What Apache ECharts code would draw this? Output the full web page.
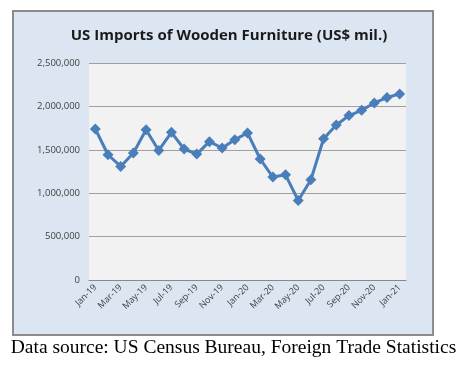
<!DOCTYPE html>
<html><head><meta charset="utf-8">
<script src="https://cdn.jsdelivr.net/npm/echarts@6/dist/echarts.min.js"></script>
<style>html,body{margin:0;padding:0;background:#fff}#c{width:467px;height:365px}</style>
</head><body><div id="c"></div>
<script>
const categories = ['Jan-19','Feb-19','Mar-19','Apr-19','May-19','Jun-19','Jul-19','Aug-19','Sep-19','Oct-19','Nov-19','Dec-19',
 'Jan-20','Feb-20','Mar-20','Apr-20','May-20','Jun-20','Jul-20','Aug-20','Sep-20','Oct-20','Nov-20','Dec-20','Jan-21'];
const imports = [1740000,1443000,1308000,1463000,1732000,1493000,1701000,1509000,1451000,1594000,1521000,1617000,
 1694000,1394000,1186000,1212000,916000,1155000,1628000,1786000,1894000,1955000,2040000,2102000,2144000];
const yTicks = [0,500000,1000000,1500000,2000000,2500000];

const chart = echarts.init(document.getElementById('c'), null, {renderer:'canvas'});
chart.setOption({
  animation:false,
  backgroundColor:'#ffffff',
  graphic:[
    {type:'rect', z:-10, shape:{x:13,y:11,width:420,height:324},
     style:{fill:'#dce6f2', stroke:'#8c8c8c', lineWidth:2}},
    {type:'rect', z:-9, shape:{x:89,y:63,width:317,height:217},
     style:{fill:'#f2f2f2'}},
    {type:'text', left:'center', top:338,
     style:{text:'Data source: US Census Bureau, Foreign Trade Statistics',
       font:'19.5px "Liberation Serif", "Times New Roman", serif', fill:'#000'}}
  ],
  title:{text:'US Imports of Wooden Furniture (US$ mil.)', left:224, textAlign:'center', top:23,
    textStyle:{fontFamily:'"Open Sans", sans-serif', fontSize:15, fontWeight:'bold', color:'#1a1a1a'}},
  grid:{left:89, right:61, top:63, bottom:85},
  xAxis:{type:'category', data:categories, boundaryGap:true,
    axisLine:{lineStyle:{color:'#888', width:1}},
    axisTick:{show:false},
    axisLabel:{interval:1, rotate:45, fontSize:9, color:'#404040', fontFamily:'"Open Sans", sans-serif', margin:6}},
  yAxis:{type:'value', min:0, max:2500000, interval:500000,
    axisLine:{show:false}, axisTick:{show:false},
    splitLine:{lineStyle:{color:'#a0a0a0', width:1}},
    axisLabel:{fontSize:9.5, color:'#404040', fontFamily:'"Open Sans", sans-serif', margin:9,
      formatter:v=>yTicks.includes(v)?v.toLocaleString('en-US'):''}},
  series:[{type:'line', data:imports, symbol:'diamond', symbolSize:11, showAllSymbol:true,
    lineStyle:{color:'#4a7ebb', width:3}, itemStyle:{color:'#4a7ebb'}}]
});
</script></body></html>
